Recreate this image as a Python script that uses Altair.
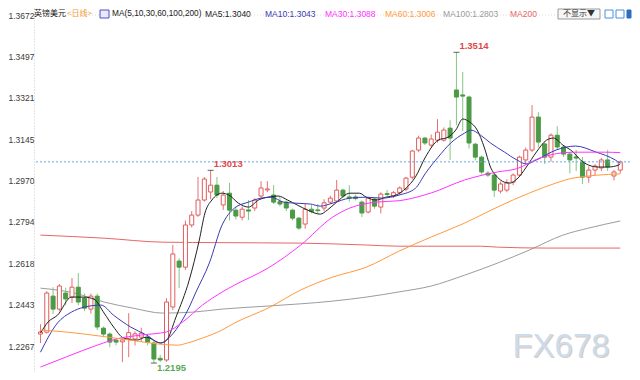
import altair as alt
import pandas as pd

# ---------------- data ----------------
opens = [1.2318, 1.2326, 1.2479, 1.2424, 1.2492, 1.2475, 1.2517, 1.2471, 1.2424, 1.2479,
         1.2343, 1.2318, 1.2292, 1.2285, 1.2300, 1.2297, 1.2305, 1.2305, 1.2280, 1.2215,
         1.2208, 1.2433, 1.2628, 1.2602, 1.2781, 1.2823, 1.2887, 1.2921, 1.2950, 1.2866,
         1.2916, 1.2844, 1.2814, 1.2845, 1.2853, 1.2904, 1.2930, 1.2908, 1.2880, 1.2878,
         1.2844, 1.2810, 1.2785, 1.2848, 1.2845, 1.2853, 1.2878, 1.2883, 1.2929, 1.2900,
         1.2900, 1.2878, 1.2836, 1.2891, 1.2857, 1.2914, 1.2904, 1.2918, 1.2933, 1.2984,
         1.3099, 1.3150, 1.3120, 1.3141, 1.3141, 1.3192, 1.3354, 1.3333, 1.3324, 1.3124,
         1.3069, 1.3001, 1.2993, 1.2925, 1.2929, 1.2963, 1.2993, 1.3057, 1.3099, 1.3239,
         1.3125, 1.3069, 1.3162, 1.3112, 1.3082, 1.3070, 1.3048, 1.2984, 1.3014, 1.3023,
         1.3057, 1.2989, 1.3014]
highs = [1.2360, 1.2500, 1.2517, 1.2530, 1.2515, 1.2556, 1.2577, 1.2490, 1.2490, 1.2490,
         1.2350, 1.2325, 1.2300, 1.2300, 1.2407, 1.2330, 1.2345, 1.2318, 1.2290, 1.2230,
         1.2470, 1.2696, 1.2640, 1.2800, 1.2840, 1.2985, 1.2985, 1.3013, 1.2985, 1.2925,
         1.2960, 1.2855, 1.2860, 1.2887, 1.2895, 1.2967, 1.2967, 1.2950, 1.2900, 1.2885,
         1.2850, 1.2815, 1.2870, 1.2865, 1.2870, 1.2890, 1.2905, 1.2972, 1.2935, 1.2950,
         1.2910, 1.2885, 1.2900, 1.2895, 1.2920, 1.2930, 1.2925, 1.2945, 1.2985, 1.3100,
         1.3160, 1.3155, 1.3165, 1.3230, 1.3195, 1.3226, 1.3514, 1.3430, 1.3330, 1.3130,
         1.3075, 1.3010, 1.3000, 1.2965, 1.2975, 1.3000, 1.3075, 1.3110, 1.3290, 1.3260,
         1.3130, 1.3170, 1.3200, 1.3120, 1.3090, 1.3100, 1.3070, 1.3030, 1.3040, 1.3065,
         1.3100, 1.3015, 1.3055]
lows = [1.2280, 1.2320, 1.2403, 1.2415, 1.2440, 1.2450, 1.2440, 1.2415, 1.2405, 1.2335,
        1.2305, 1.2262, 1.2270, 1.2199, 1.2220, 1.2270, 1.2285, 1.2270, 1.2195, 1.2200,
        1.2200, 1.2420, 1.2513, 1.2590, 1.2770, 1.2815, 1.2880, 1.2890, 1.2895, 1.2845,
        1.2800, 1.2805, 1.2800, 1.2802, 1.2840, 1.2895, 1.2920, 1.2870, 1.2860, 1.2840,
        1.2800, 1.2760, 1.2765, 1.2830, 1.2830, 1.2840, 1.2870, 1.2878, 1.2895, 1.2880,
        1.2885, 1.2815, 1.2830, 1.2850, 1.2830, 1.2905, 1.2895, 1.2910, 1.2925, 1.2975,
        1.3090, 1.3120, 1.3110, 1.3130, 1.3135, 1.3057, 1.3205, 1.3180, 1.3105, 1.3055,
        1.2995, 1.2985, 1.2900, 1.2915, 1.2920, 1.2950, 1.2985, 1.3040, 1.3090, 1.3110,
        1.3040, 1.3050, 1.3100, 1.3070, 1.3000, 1.3010, 1.2955, 1.2960, 1.2990, 1.3010,
        1.3010, 1.2970, 1.3000]
closes = [1.2327, 1.2492, 1.2424, 1.2522, 1.2467, 1.2517, 1.2454, 1.2428, 1.2479, 1.2348,
          1.2318, 1.2284, 1.2284, 1.2293, 1.2324, 1.2319, 1.2322, 1.2284, 1.2212, 1.2208,
          1.2454, 1.2658, 1.2602, 1.2781, 1.2823, 1.2887, 1.2976, 1.2950, 1.2908, 1.2908,
          1.2844, 1.2819, 1.2848, 1.2840, 1.2887, 1.2938, 1.2934, 1.2878, 1.2870, 1.2853,
          1.2810, 1.2768, 1.2848, 1.2838, 1.2842, 1.2875, 1.2895, 1.2929, 1.2904, 1.2895,
          1.2893, 1.2832, 1.2895, 1.2861, 1.2912, 1.2910, 1.2918, 1.2938, 1.2980, 1.3095,
          1.3150, 1.3129, 1.3146, 1.3175, 1.3184, 1.3150, 1.3324, 1.3328, 1.3129, 1.3069,
          1.3006, 1.2993, 1.2929, 1.2955, 1.2959, 1.2993, 1.3069, 1.3099, 1.3239, 1.3133,
          1.3069, 1.3162, 1.3112, 1.3082, 1.3057, 1.3065, 1.2984, 1.3014, 1.3031, 1.3057,
          1.3027, 1.3006, 1.3049]

ma5_i = [0, 1.2, 2.7, 4.9, 6.9, 8.5, 10.1, 11.6, 13.2, 15.2, 16.8, 19, 20, 21.5, 23.6, 25.2,
         26.1, 27.2, 28.8, 29.9, 31.4, 33, 34.6, 36.1, 37.7, 39.2, 40.8, 42.4, 44.4, 45.5,
         47, 49.1, 50.6, 51.7, 53.3, 54.8, 56.4, 58, 59.5, 61.1, 63.1, 64.7, 65.9, 67, 68.1,
         69.3, 70.4, 71.4, 72.5, 73.6, 74.5, 75.6, 77.1, 78.7, 80.3, 81.4, 82.9, 84.5, 85.7,
         87, 88.5, 90.1, 91.7, 92]
ma5_v = [1.2322, 1.2369, 1.2398, 1.2475, 1.2475, 1.2466, 1.2407, 1.2348, 1.2301, 1.2292,
         1.2305, 1.2280, 1.2292, 1.2390, 1.2547, 1.2717, 1.2832, 1.2887, 1.2916, 1.2908,
         1.2874, 1.2857, 1.2887, 1.2899, 1.2904, 1.2887, 1.2865, 1.2844, 1.2827, 1.2844,
         1.2878, 1.2916, 1.2916, 1.2899, 1.2887, 1.2899, 1.2908, 1.2937, 1.2985, 1.3070,
         1.3141, 1.3154, 1.3184, 1.3231, 1.3218, 1.3184, 1.3112, 1.3027, 1.2984, 1.2963,
         1.2959, 1.2976, 1.3027, 1.3091, 1.3141, 1.3150, 1.3120, 1.3091, 1.3057, 1.3035,
         1.3027, 1.3027, 1.3035, 1.3040]

ma10_i = [0, 2.7, 4.9, 6.9, 9.6, 11.6, 14.3, 16.8, 19.1, 20.5, 22.5, 23.6, 24.6, 26.8, 28.8,
          30.8, 33, 35, 36.6, 38.6, 40.2, 42.8, 44.4, 46.4, 49.1, 51.7, 54.2, 56.9, 59.5,
          61.1, 63.1, 65.1, 67.3, 68.3, 69.8, 71.4, 73.6, 75.6, 77.1, 78.7, 81.8, 84.9, 88.1,
          91.2, 92]
ma10_v = [1.2241, 1.2365, 1.2411, 1.2432, 1.2441, 1.2398, 1.2348, 1.2314, 1.2280, 1.2305,
          1.2377, 1.2432, 1.2492, 1.2620, 1.2780, 1.2853, 1.2878, 1.2895, 1.2899, 1.2878,
          1.2874, 1.2870, 1.2861, 1.2874, 1.2895, 1.2899, 1.2895, 1.2908, 1.2937, 1.3001,
          1.3069, 1.3129, 1.3171, 1.3184, 1.3163, 1.3129, 1.3091, 1.3057, 1.3040, 1.3057,
          1.3099, 1.3116, 1.3091, 1.3057, 1.3043]

ma30_i = [0, 4, 9, 12, 16, 20, 22.5, 25.7, 28.8, 30.8, 36.1, 41.3, 46.4, 49.1, 53.3, 56.9,
          62, 67.3, 72.5, 75.6, 79.2, 84.5, 89.6, 92]
ma30_v = [1.2178, 1.2220, 1.2271, 1.2297, 1.2314, 1.2327, 1.2368, 1.2441, 1.2496, 1.2526,
          1.2598, 1.2696, 1.2815, 1.2853, 1.2878, 1.2884, 1.2917, 1.2972, 1.3006, 1.3020,
          1.3065, 1.3090, 1.3090, 1.3088]

ma60_i = [0, 4, 9.3, 14.4, 18.6, 21.8, 23.3, 25.7, 28.8, 30.8, 36.1, 41.3, 46.4, 51.7, 56.9,
          62, 67.3, 72.5, 77.6, 81.8, 84.5, 92]
ma60_v = [1.2335, 1.2327, 1.2310, 1.2292, 1.2276, 1.2271, 1.2280, 1.2301, 1.2335, 1.2365,
          1.2428, 1.2505, 1.2560, 1.2602, 1.2670, 1.2730, 1.2789, 1.2857, 1.2917, 1.2959,
          1.2980, 1.2998]

ma100_i = [0, 5.4, 10.1, 14.7, 19.4, 24.1, 28.8, 36.1, 46.4, 51.7, 56.9, 62, 67.3, 72.5,
           77.6, 82.9, 87, 92]
ma100_v = [1.2513, 1.2492, 1.2454, 1.2428, 1.2407, 1.2411, 1.2424, 1.2437, 1.2458, 1.2475,
           1.2497, 1.2522, 1.2568, 1.2619, 1.2675, 1.2738, 1.2768, 1.2798]

ma200_i = [0, 10.1, 19.4, 28.8, 41.3, 51.7, 56.9, 69.8, 72.5, 80.3, 92]
ma200_v = [1.2738, 1.2725, 1.2708, 1.2706, 1.2704, 1.2696, 1.2691, 1.2691, 1.2687, 1.2683,
           1.2683]

ma_names = ["MA5", "MA10", "MA30", "MA60", "MA100", "MA200"]
ma_colors = ["#222222", "#3a3ab4", "#ff33ff", "#ff9a3c", "#9c9c9c", "#e86666"]

ytick_values = [1.2267, 1.2443, 1.2618, 1.2794, 1.2970, 1.3145, 1.3321, 1.3497, 1.3672]

title_texts = ["英镑美元", "<日线>", "MA(5,10,30,60,100,200)", "MA5:1.3040", "MA10:1.3043",
               "MA30:1.3088", "MA60:1.3006", "MA100:1.2803", "MA200"]

ann_idx = [66, 27, 18]
ann_price = [1.3514, 1.3013, 1.2195]
ann_text = ["1.3514", "1.3013", "1.2195"]

last_price = 1.3049

# ---------------- build tables ----------------
n = len(opens)
candles = pd.DataFrame({"i": list(range(n)), "o": opens, "h": highs, "l": lows, "c": closes})

ma_rows = []
for name, ii, vv in zip(ma_names,
                        [ma5_i, ma10_i, ma30_i, ma60_i, ma100_i, ma200_i],
                        [ma5_v, ma10_v, ma30_v, ma60_v, ma100_v, ma200_v]):
    for a, b in zip(ii, vv):
        ma_rows.append({"ma": name, "i": a, "v": b})
ma_df = pd.DataFrame(ma_rows)

ann_df = pd.DataFrame({"i": ann_idx, "p": ann_price, "t": ann_text})

PLOT_LEFT = 34  # page x of plot area
PLOT_TOP = 8

xs = alt.Scale(domain=[-0.234, 92.75], nice=False, zero=False)
ys = alt.Scale(domain=[1.2157, 1.3702], nice=False, zero=False)
yax = alt.Axis(values=ytick_values, format=".4f", title=None, labelFont="Liberation Sans",
               labelFontSize=8.5, labelColor="#3a3a3a", tickSize=0, labelPadding=0,
               domain=True, domainColor="#c8c8c8", domainDash=[1, 2], grid=False)
X = alt.X("i:Q", scale=xs, axis=None)

base = alt.Chart(candles)
wicks = base.mark_rule(strokeWidth=1).encode(
    x=X,
    y=alt.Y("l:Q", scale=ys, axis=yax),
    y2="h:Q",
    color=alt.condition("datum.c >= datum.o", alt.value("#e87070"), alt.value("#86c482")),
)
up_bodies = base.transform_filter("datum.c >= datum.o").mark_bar(
    size=4, fill="white", stroke="#e25c5c", strokeWidth=1
).encode(x=X, y=alt.Y("o:Q", scale=ys, axis=yax), y2="c:Q")
down_bodies = base.transform_filter("datum.c < datum.o").mark_bar(
    size=4, fill="#4b9a45", stroke="#4b9a45", strokeWidth=1
).encode(x=X, y=alt.Y("o:Q", scale=ys, axis=yax), y2="c:Q")

lines = alt.Chart(ma_df).mark_line(strokeWidth=1, interpolate="monotone").encode(
    x=X,
    y=alt.Y("v:Q", scale=ys, axis=yax),
    color=alt.Color("ma:N", scale=alt.Scale(domain=ma_names, range=ma_colors), legend=None),
)

price_line = alt.Chart(pd.DataFrame({"p": [last_price]})).mark_rule(
    color="#6aa8e8", strokeDash=[2, 2], strokeWidth=1
).encode(y=alt.Y("p:Q", scale=ys, axis=yax))
top_line = alt.Chart(pd.DataFrame({"p": [ytick_values[-1]]})).mark_rule(
    color="#dddddd", strokeDash=[1, 2], strokeWidth=1
).encode(y=alt.Y("p:Q", scale=ys, axis=yax))

ann_base = alt.Chart(ann_df)
marks_hl = ann_base.mark_tick(orient="horizontal", size=6, thickness=1, color="#222222").encode(
    x=X, y=alt.Y("p:Q", scale=ys, axis=yax))
ann_hi = ann_base.transform_filter("datum.i != 18").mark_text(
    align="left", baseline="middle", dx=3, dy=-6, fontSize=9.5, fontWeight="bold",
    font="Liberation Sans", color="#e04848"
).encode(x=X, y=alt.Y("p:Q", scale=ys, axis=yax), text="t:N")
ann_lo = ann_base.transform_filter("datum.i == 18").mark_text(
    align="left", baseline="middle", dx=3, dy=5, fontSize=9.5, fontWeight="bold",
    font="Liberation Sans", color="#5aaa55"
).encode(x=X, y=alt.Y("p:Q", scale=ys, axis=yax), text="t:N")

dummy = pd.DataFrame({"k": [0]})


def txt(s, page_x, page_y, color, size=8.5, font="Liberation Sans", weight="normal",
        align="left", baseline="middle", opacity=1.0):
    return alt.Chart(dummy).mark_text(
        text=s, color=color, fontSize=size, font=font, fontWeight=weight,
        align=align, baseline=baseline, opacity=opacity
    ).encode(x=alt.value(page_x - PLOT_LEFT), y=alt.value(page_y - PLOT_TOP))


def box(x1, y1, x2, y2, fill, stroke):
    return alt.Chart(dummy).mark_rect(fill=fill, stroke=stroke, strokeWidth=1).encode(
        x=alt.value(x1 - PLOT_LEFT), x2=alt.value(x2 - PLOT_LEFT),
        y=alt.value(y1 - PLOT_TOP), y2=alt.value(y2 - PLOT_TOP))


TY = 14
title_layers = [
    txt(title_texts[0], 34, TY, "#222222", size=8, font="Noto Sans CJK SC"),
    txt(title_texts[1], 67, TY, "#f39a2a", size=8, font="Noto Sans CJK SC"),
    box(100, 10, 109, 18, "#e8e8ff", "#5050c0"),
    txt(title_texts[2], 112, TY, "#222222", size=8.3),
    txt(title_texts[3], 205, TY, "#222222"),
    txt(title_texts[4], 265, TY, "#3a3ab4"),
    txt(title_texts[5], 325, TY, "#ff33ff"),
    txt(title_texts[6], 385, TY, "#ff9a3c"),
    txt(title_texts[7], 443, TY, "#9c9c9c"),
    txt(title_texts[8], 510, TY, "#e86666"),
    box(558, 9, 600, 19, "#f6f6f6", "#9a9a9a"),
    txt("不显示▼", 579, 14, "#333333", size=8, font="Noto Sans CJK SC", align="center"),
    box(605, 10, 613, 18, "#ffffff", "#4a90d9"),
    box(616, 10, 624, 18, "#ffffff", "#4a90d9"),
    box(627, 10, 631, 18, "#2a6fc0", "#2a6fc0"),
]

watermark = [
    txt("FX678", 562, 358, "#c9b9a6", size=33, baseline="alphabetic", align="center", opacity=0.7),
    txt("FX678", 561, 357, "#cddcec", size=33, baseline="alphabetic", align="center"),
]

chart = alt.layer(
    top_line, *watermark, lines.transform_filter("datum.ma == 'MA100' || datum.ma == 'MA200'"),
    wicks, up_bodies, down_bodies,
    lines.transform_filter("datum.ma != 'MA100' && datum.ma != 'MA200'"),
    price_line, marks_hl, ann_hi, ann_lo, *title_layers,
).properties(
    width=596, height=364,
    padding={"left": 26, "top": 0, "right": 2, "bottom": 0},
    autosize=alt.AutoSizeParams(type="none"),
    background="white",
).configure_view(strokeWidth=0)

chart.save("out.html", embed_options={"renderer": "svg", "actions": False})
